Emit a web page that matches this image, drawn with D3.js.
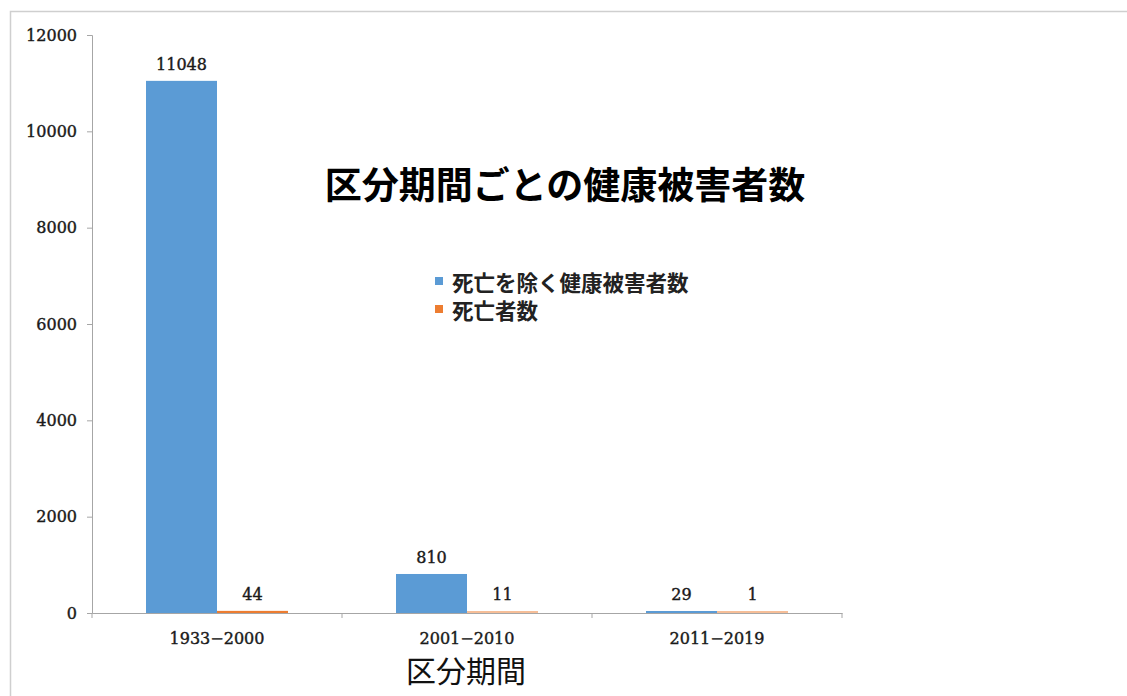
<!DOCTYPE html>
<html><head><meta charset="utf-8">
<script src="https://cdn.jsdelivr.net/npm/d3@7"></script>
<style>body{margin:0;background:#fff}svg{display:block}</style>
</head><body>
<script>
const categories = ["1933-2000", "2001-2010", "2011-2019"];
const seriesNames = ["死亡を除く健康被害者数", "死亡者数"];
const injured = [11048, 810, 29];
const deaths = [44, 11, 1];
const yTicks = [0, 2000, 4000, 6000, 8000, 10000, 12000];
const colors = ["#5b9bd5", "#ed7d31"];

(function(){
const W = 1127, H = 696;
const svg = d3.select("body").append("svg").attr("width", W).attr("height", H);
svg.append("rect").attr("x", 10.5).attr("y", 11.5).attr("width", 1130).attr("height", 700)
  .attr("fill", "none").attr("stroke", "#cfcfcf").attr("stroke-width", 1.5);

const mLeft = 92, mRight = 842, mTop = 35, mBottom = 613;
const x = d3.scaleBand().domain(categories).range([mLeft, mRight]).paddingInner(0).paddingOuter(0);
const x1 = d3.scaleBand().domain([0, 1]).range([54, 196]);
const y = d3.scaleLinear().domain([0, 12000]).range([mBottom, mTop]);
const serif = "'DejaVu Serif','Liberation Serif',serif";
const numStyle = sel => sel.attr("font-family", serif).attr("font-size", 16)
  .attr("fill", "#1a1a1a").attr("stroke", "#1a1a1a").attr("stroke-width", 0.4);

// y axis
const ya = svg.append("g").attr("transform", `translate(${mLeft},0)`)
  .call(d3.axisLeft(y).tickValues(yTicks).tickSize(5).tickFormat(d3.format("d")));
ya.select(".domain").attr("stroke", "#a6a6a6");
ya.selectAll(".tick line").attr("stroke", "#a6a6a6");
ya.selectAll(".tick text").call(numStyle).attr("x", -15);

// x axis
const xa = svg.append("g").attr("transform", `translate(0,${mBottom})`)
  .call(d3.axisBottom(x).tickSize(0).tickFormat(d => d.replace("-", "−")));
xa.select(".domain").attr("stroke", "#a6a6a6");
xa.selectAll(".tick text").call(numStyle).attr("y", 20).attr("dy", "0.71em");
const bounds = categories.map(c => x(c)).concat([x(categories[categories.length-1]) + x.bandwidth()]);
svg.selectAll(".xt").data(bounds).enter().append("line")
  .attr("x1", d => d).attr("x2", d => d).attr("y1", mBottom).attr("y2", mBottom + 5)
  .attr("stroke", "#a6a6a6");

const data = categories.map((c, i) => ({c, vals: [injured[i], deaths[i]]}));
const g = svg.append("g");
data.forEach(d => {
  d.vals.forEach((v, k) => {
    const bx = x(d.c) + x1(k);
    const by = y(v);
    const topY = Math.min(by, mBottom - 2);
    g.append("rect").attr("x", bx).attr("y", topY).attr("width", x1.bandwidth())
      .attr("height", mBottom - topY).attr("fill", colors[k]).attr("opacity", v < 20 ? 0.5 : 1);
    g.append("text").attr("x", bx + x1.bandwidth()/2).attr("y", topY - 11)
      .attr("text-anchor", "middle").call(numStyle).text(v);
  });
});

// title
svg.append("text").attr("x", 565).attr("y", 199).attr("text-anchor", "middle")
  .attr("font-family", "'Noto Sans CJK JP',sans-serif").attr("font-weight", "bold").attr("font-size", 37)
  .attr("fill", "#000").text("区分期間ごとの健康被害者数");

// axis title
svg.append("text").attr("x", 466).attr("y", 682).attr("text-anchor", "middle")
  .attr("font-family", "'Noto Sans CJK JP',sans-serif").attr("font-size", 30)
  .attr("fill", "#111").text("区分期間");

// legend
seriesNames.forEach((s, k) => {
  const ly = 281 + k * 28;
  svg.append("rect").attr("x", 435).attr("y", ly - 4).attr("width", 8).attr("height", 8).attr("fill", colors[k]);
  svg.append("text").attr("x", 452).attr("y", ly).attr("dominant-baseline", "central")
    .attr("font-family", "'Noto Sans CJK JP',sans-serif").attr("font-weight", "bold").attr("font-size", 21.5)
    .attr("fill", "#222").text(s);
});
})();
</script>
</body></html>
